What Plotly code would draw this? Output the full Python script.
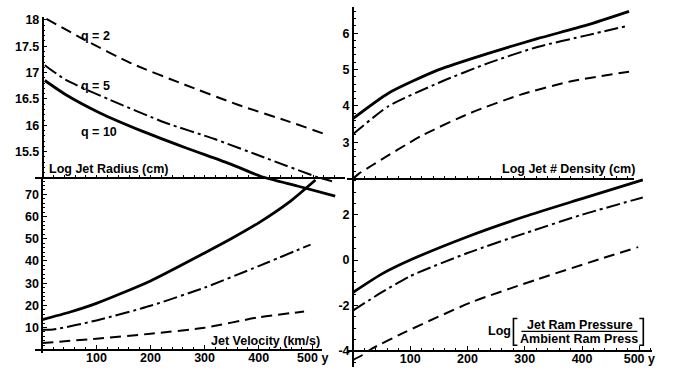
import plotly.graph_objects as go

W, H = 684, 371

# ---------------- data ----------------
# Log Jet Radius (cm) vs time (y)
t_r_q2 = [7, 74, 165, 263, 361, 453, 523]
logR_q2 = [18.02, 17.64, 17.17, 16.77, 16.39, 16.08, 15.83]
t_r_q5 = [4, 43, 123, 227, 318, 410, 508, 535]
logR_q5 = [17.14, 16.86, 16.49, 16.05, 15.74, 15.39, 15.02, 14.94]
t_r_q10 = [4, 43, 105, 184, 263, 349, 404, 471, 541]
logR_q10 = [16.85, 16.58, 16.24, 15.89, 15.58, 15.26, 15.03, 14.85, 14.66]

# Log Jet # Density
t_n_q2 = [0, 10, 33, 120, 206, 293, 379, 482]
logN_q2 = [1.99, 2.13, 2.36, 3.18, 3.81, 4.31, 4.67, 4.94]
t_n_q5 = [0, 62, 149, 235, 322, 408, 482]
logN_q5 = [3.22, 3.99, 4.63, 5.17, 5.62, 5.94, 6.21]
t_n_q10 = [0, 62, 149, 235, 322, 408, 482]
logN_q10 = [3.65, 4.35, 4.99, 5.44, 5.85, 6.22, 6.6]

# Jet Velocity (km/s)
t_v_q2 = [0, 100, 200, 300, 400, 484]
vel_q2 = [3.0, 5.0, 7.2, 9.9, 14.6, 17.2]
t_v_q5 = [0, 20, 100, 200, 300, 400, 496]
vel_q5 = [9.0, 9.1, 13.2, 19.8, 28.0, 37.7, 47.4]
t_v_q10 = [0, 50, 100, 200, 300, 349, 400, 459, 505]
vel_q10 = [13.6, 16.9, 20.9, 31.0, 43.6, 50.0, 57.2, 67.0, 76.5]

# Log [Jet Ram Pressure / Ambient Ram Press]
t_p_q2 = [0, 16, 34, 91, 206, 322, 437, 498]
logP_q2 = [-4.41, -4.2, -3.9, -3.18, -1.87, -0.85, 0.09, 0.57]
t_p_q5 = [0, 50, 100, 200, 300, 400, 506]
logP_q5 = [-2.23, -1.43, -0.71, 0.31, 1.18, 2.0, 2.76]
t_p_q10 = [0, 50, 100, 200, 300, 400, 506]
logP_q10 = [-1.43, -0.62, 0.0, 1.03, 1.92, 2.71, 3.54]

x_ticks = [100, 200, 300, 400, 500]
x_ticktext = ["100", "200", "300", "400", "500 y"]
r_ticks = [15.5, 16, 16.5, 17, 17.5, 18]
n_ticks = [3, 4, 5, 6]
v_ticks = [10, 20, 30, 40, 50, 60, 70]
p_ticks = [-4, -2, 0, 2]
p_ticktext = ["-4", "-2", "0", "2"]

q_labels = ["q = 2", "q = 5", "q = 10"]

# ---------------- layout geometry (pixels) ----------------
panels = {
    "TL": dict(x0=43, sx=0.5456, ya=(18, 16), yb=(15, 176), L=35, R=348, T=13, B=176, xline=176, yline=43),
    "TR": dict(x0=356, sx=0.578, ya=(6, 29.5), yb=(2, 176.5), L=350, R=640, T=3, B=176.5, xline=176.5, yline=356),
    "BL": dict(x0=42.7, sx=0.5456, ya=(70, 192.5), yb=(0, 349.5), L=35, R=325, T=176, B=353, xline=349.5, yline=42.7),
    "BR": dict(x0=356, sx=0.578, ya=(2, 213), yb=(-4, 350.5), L=350, R=658, T=176, B=367, xline=350.5, yline=356),
}


def vx(p, px):
    return (px - p["x0"]) / p["sx"]


def vy(p, py):
    (va, pa), (vb, pb) = p["ya"], p["yb"]
    return va + (py - pa) * (vb - va) / (pb - pa)


FONT = dict(family="Liberation Sans, Arial, Helvetica, sans-serif", size=12.5, color="black", weight="bold")

fig = go.Figure()
layout = dict(width=W, height=H, margin=dict(l=0, r=0, t=0, b=0),
              paper_bgcolor="white", plot_bgcolor="rgba(0,0,0,0)",
              showlegend=False, font=FONT)

tick_spec = {
    "TL": dict(ytv=r_ticks, ytt=[("%g" % v) for v in r_ticks], ymin=[round(15 + 0.1 * i, 2) for i in range(0, 32)],
               xlab=False),
    "TR": dict(ytv=n_ticks, ytt=[str(v) for v in n_ticks], ymin=[round(2 + 0.2 * i, 2) for i in range(0, 24)],
               xlab=False),
    "BL": dict(ytv=v_ticks, ytt=[str(v) for v in v_ticks], ymin=list(range(0, 78, 2)), xlab=True),
    "BR": dict(ytv=p_ticks, ytt=p_ticktext, ymin=[-4.5 + 0.5 * i for i in range(0, 17)], xlab=True),
}

order = ["TL", "TR", "BL", "BR"]
for i, key in enumerate(order):
    p = panels[key]
    n = i + 1
    xa = "xaxis" if n == 1 else "xaxis%d" % n
    ya = "yaxis" if n == 1 else "yaxis%d" % n
    spec = tick_spec[key]
    xmin_vals = [v for v in range(0, 561, 20) if vx(p, p["L"]) <= v <= vx(p, p["R"])]
    layout[xa] = dict(
        domain=[p["L"] / W, p["R"] / W], range=[vx(p, p["L"]), vx(p, p["R"])],
        anchor="free", position=1 - p["xline"] / H, side="bottom",
        showline=True, linecolor="black", linewidth=1.6, showgrid=False, zeroline=False,
        ticks="inside", ticklen=4, tickwidth=1.3, tickcolor="black",
        tickmode="array", tickvals=x_ticks,
        ticktext=x_ticktext if spec["xlab"] else [""] * len(x_ticks),
        showticklabels=spec["xlab"], tickfont=FONT, ticklabelstandoff=-4,
        minor=dict(ticks="inside", ticklen=2, tickwidth=1, tickcolor="black", tickmode="array", tickvals=xmin_vals),
        fixedrange=True,
    )
    layout[ya] = dict(
        domain=[1 - p["B"] / H, 1 - p["T"] / H], range=[vy(p, p["B"]), vy(p, p["T"])],
        anchor="free", position=p["yline"] / W, side="left",
        showline=True, linecolor="black", linewidth=1.6, showgrid=False, zeroline=False,
        ticks="inside", ticklen=4, tickwidth=1.3, tickcolor="black",
        tickmode="array", tickvals=spec["ytv"], ticktext=spec["ytt"], tickfont=FONT,
        minor=dict(ticks="inside", ticklen=2, tickwidth=1, tickcolor="black", tickmode="array",
                   tickvals=[v for v in spec["ymin"] if vy(p, p["B"]) <= v <= vy(p, p["T"])]),
        fixedrange=True,
    )
    fig.add_trace(go.Scatter(x=[None], y=[None], xaxis="x" if n == 1 else "x%d" % n,
                             yaxis="y" if n == 1 else "y%d" % n, hoverinfo="skip"))

# invisible full-page data axes (unclipped curves, same scales as panels)
series = {
    "TL": [(t_r_q2, logR_q2), (t_r_q5, logR_q5), (t_r_q10, logR_q10)],
    "TR": [(t_n_q2, logN_q2), (t_n_q5, logN_q5), (t_n_q10, logN_q10)],
    "BL": [(t_v_q2, vel_q2), (t_v_q5, vel_q5), (t_v_q10, vel_q10)],
    "BR": [(t_p_q2, logP_q2), (t_p_q5, logP_q5), (t_p_q10, logP_q10)],
}
styles = [dict(color="black", width=2, dash="11px,6px"),
          dict(color="black", width=2, dash="14px,4px,3px,4px"),
          dict(color="black", width=2.8, dash="solid")]

for i, key in enumerate(order):
    p = panels[key]
    n = i + 5
    layout["xaxis%d" % n] = dict(domain=[0, 1], range=[vx(p, 0), vx(p, W)], visible=False,
                                 anchor="y%d" % n, fixedrange=True)
    layout["yaxis%d" % n] = dict(domain=[0, 1], range=[vy(p, H), vy(p, 0)], visible=False,
                                 anchor="x%d" % n, fixedrange=True)
    for (xs, ys), st in zip(series[key], styles):
        fig.add_trace(go.Scatter(x=xs, y=ys, mode="lines", line=dict(shape="spline", smoothing=0.6, **st),
                                 xaxis="x%d" % n, yaxis="y%d" % n, hoverinfo="skip"))


def ann(text, px, py, xanchor="left", size=12.5):
    return dict(text=text, x=px / W, y=1 - py / H, xref="paper", yref="paper", showarrow=False,
                xanchor=xanchor, yanchor="middle", font=dict(FONT, size=size))


annotations = [
    ann(q_labels[0], 80, 32),
    ann(q_labels[1], 80, 83),
    ann(q_labels[2], 80, 129),
    ann("Log Jet Radius (cm)", 47, 167),
    ann("Log Jet # Density (cm)", 643, 167, xanchor="right"),
    ann("Jet Velocity (km/s)", 325, 341, xanchor="right"),
    ann("Log", 490, 331),
    ann("Jet Ram Pressure", 585, 324, xanchor="center"),
    ann("Ambient Ram Press", 584, 339, xanchor="center"),
]
layout["annotations"] = annotations


def path_px(pts):
    return "M " + " L ".join("%.5f,%.5f" % (x / W, 1 - y / H) for x, y in pts)


shapes = [
    dict(type="path", xref="paper", yref="paper", path=path_px([(522, 318), (518, 318), (518, 345), (522, 345)]),
         line=dict(color="black", width=1.6)),
    dict(type="path", xref="paper", yref="paper", path=path_px([(645, 318), (649, 318), (649, 345), (645, 345)]),
         line=dict(color="black", width=1.6)),
    dict(type="line", xref="paper", yref="paper", x0=526 / W, x1=643 / W, y0=1 - 331 / H, y1=1 - 331 / H,
         line=dict(color="black", width=1.3)),
]
layout["shapes"] = shapes

fig.update_layout(**layout)
fig.write_html("out.html", config={"displayModeBar": False},
               post_script="document.body.style.margin='0px';document.body.style.padding='0px';"
                           "document.body.style.overflow='hidden';")
